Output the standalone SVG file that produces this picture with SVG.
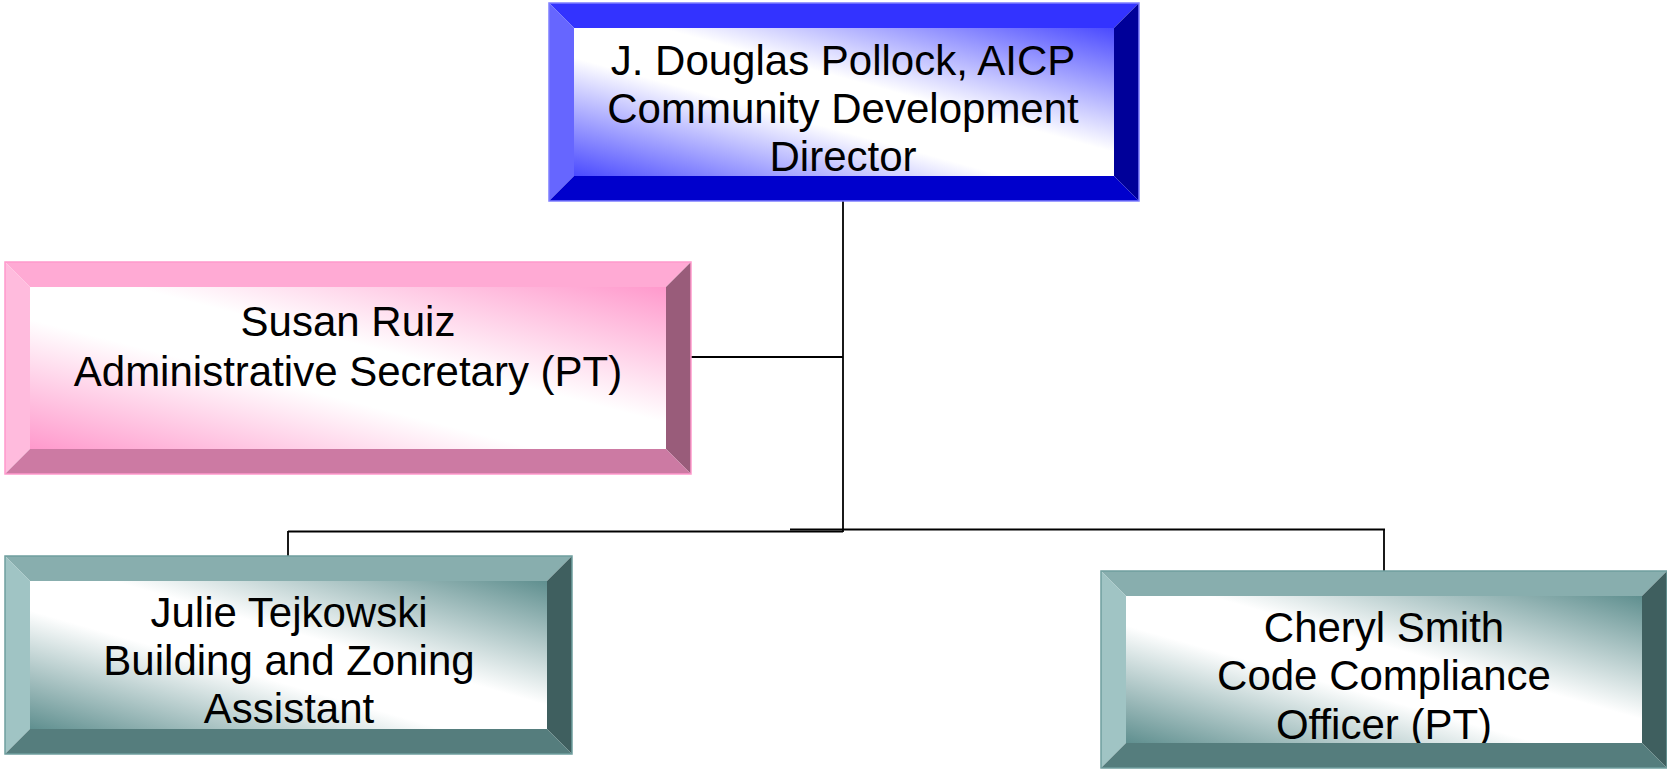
<svg xmlns="http://www.w3.org/2000/svg" width="1667" height="770" viewBox="0 0 1667 770">
  <style>
    .lbl { font-family: "Liberation Sans", Arial, sans-serif; font-size: 42px; fill: #000; text-anchor: middle; }
    .wire { stroke: #000; stroke-width: 1.8; fill: none; }
    .blue .t { fill: #3333ff; } .blue .l { fill: #6666ff; } .blue .b { fill: #0000cc; } .blue .r { fill: #000099; }
    .blue .edge { stroke: #7f7fff; }
    .pink .t { fill: #ffaad4; } .pink .l { fill: #ffbbdd; } .pink .b { fill: #cc7aa3; } .pink .r { fill: #995c7a; }
    .pink .edge { stroke: #ff99cc; }
    .teal .t { fill: #88aeae; } .teal .l { fill: #a0c4c4; } .teal .b { fill: #557d7d; } .teal .r { fill: #3f5f5f; }
    .teal .edge { stroke: #6f9f9f; }
    .edge { fill: none; stroke-width: 1.5; }
  </style>
  <defs>
    <linearGradient id="gBlue" x1="1" y1="0" x2="0" y2="1">
      <stop offset="0" stop-color="#4a4aff"/>
      <stop offset="0.42" stop-color="#ffffff"/>
      <stop offset="0.6" stop-color="#ffffff"/>
      <stop offset="1" stop-color="#4a4aff"/>
    </linearGradient>
    <linearGradient id="gPink" x1="1" y1="0" x2="0" y2="1">
      <stop offset="0" stop-color="#ff99cc"/>
      <stop offset="0.42" stop-color="#ffffff"/>
      <stop offset="0.6" stop-color="#ffffff"/>
      <stop offset="1" stop-color="#ff99cc"/>
    </linearGradient>
    <linearGradient id="gTeal" x1="1" y1="0" x2="0" y2="1">
      <stop offset="0" stop-color="#5f8f8f"/>
      <stop offset="0.42" stop-color="#ffffff"/>
      <stop offset="0.6" stop-color="#ffffff"/>
      <stop offset="1" stop-color="#5f8f8f"/>
    </linearGradient>
    <clipPath id="cTop"><rect x="574" y="28" width="540" height="148"/></clipPath>
    <clipPath id="cSusan"><rect x="30" y="287" width="636" height="162"/></clipPath>
    <clipPath id="cJulie"><rect x="30" y="581" width="517" height="148"/></clipPath>
    <clipPath id="cCheryl"><rect x="1126" y="596" width="516" height="147"/></clipPath>
  </defs>

  <!-- reporting lines -->
  <g id="connectors">
    <line class="wire" x1="843" y1="201" x2="843" y2="532"/>
    <line class="wire" x1="691" y1="357" x2="843" y2="357"/>
    <line class="wire" x1="288" y1="531.5" x2="843" y2="531.5"/>
    <line class="wire" x1="790" y1="529.5" x2="1385" y2="529.5"/>
    <line class="wire" x1="288" y1="531" x2="288" y2="556"/>
    <line class="wire" x1="1384" y1="529" x2="1384" y2="571"/>
  </g>

  <!-- director: x 549..1139, y 3..201, bevel 25 -->
  <g id="director" class="blue">
    <rect x="574" y="28" width="540" height="148" fill="url(#gBlue)"/>
    <polygon class="t" points="549,3 1139,3 1114,28 574,28"/>
    <polygon class="l" points="549,3 574,28 574,176 549,201"/>
    <polygon class="r" points="1139,3 1139,201 1114,176 1114,28"/>
    <polygon class="b" points="549,201 574,176 1114,176 1139,201"/>
    <rect class="edge" x="549" y="3" width="590" height="198"/>
    <g clip-path="url(#cTop)">
      <text class="lbl" x="843" y="75">J. Douglas Pollock, AICP</text>
      <text class="lbl" x="843" y="123">Community Development</text>
      <text class="lbl" x="843" y="171">Director</text>
    </g>
  </g>

  <!-- secretary: x 5..691, y 262..474 -->
  <g id="susan" class="pink">
    <rect x="30" y="287" width="636" height="162" fill="url(#gPink)"/>
    <polygon class="t" points="5,262 691,262 666,287 30,287"/>
    <polygon class="l" points="5,262 30,287 30,449 5,474"/>
    <polygon class="r" points="691,262 691,474 666,449 666,287"/>
    <polygon class="b" points="5,474 30,449 666,449 691,474"/>
    <rect class="edge" x="5" y="262" width="686" height="212"/>
    <g clip-path="url(#cSusan)">
      <text class="lbl" x="348" y="336">Susan Ruiz</text>
      <text class="lbl" x="348" y="386">Administrative Secretary (PT)</text>
    </g>
  </g>

  <!-- building and zoning: x 5..572, y 556..754 -->
  <g id="julie" class="teal">
    <rect x="30" y="581" width="517" height="148" fill="url(#gTeal)"/>
    <polygon class="t" points="5,556 572,556 547,581 30,581"/>
    <polygon class="l" points="5,556 30,581 30,729 5,754"/>
    <polygon class="r" points="572,556 572,754 547,729 547,581"/>
    <polygon class="b" points="5,754 30,729 547,729 572,754"/>
    <rect class="edge" x="5" y="556" width="567" height="198"/>
    <g clip-path="url(#cJulie)">
      <text class="lbl" x="289" y="627">Julie Tejkowski</text>
      <text class="lbl" x="289" y="675">Building and Zoning</text>
      <text class="lbl" x="289" y="723">Assistant</text>
    </g>
  </g>

  <!-- code compliance: x 1101..1667, y 571..768 -->
  <g id="cheryl" class="teal">
    <rect x="1126" y="596" width="516" height="147" fill="url(#gTeal)"/>
    <polygon class="t" points="1101,571 1667,571 1642,596 1126,596"/>
    <polygon class="l" points="1101,571 1126,596 1126,743 1101,768"/>
    <polygon class="r" points="1667,571 1667,768 1642,743 1642,596"/>
    <polygon class="b" points="1101,768 1126,743 1642,743 1667,768"/>
    <rect class="edge" x="1101" y="571" width="566" height="197"/>
    <g clip-path="url(#cCheryl)">
      <text class="lbl" x="1384" y="642">Cheryl Smith</text>
      <text class="lbl" x="1384" y="690">Code Compliance</text>
      <text class="lbl" x="1384" y="739">Officer (PT)</text>
    </g>
  </g>
</svg>
